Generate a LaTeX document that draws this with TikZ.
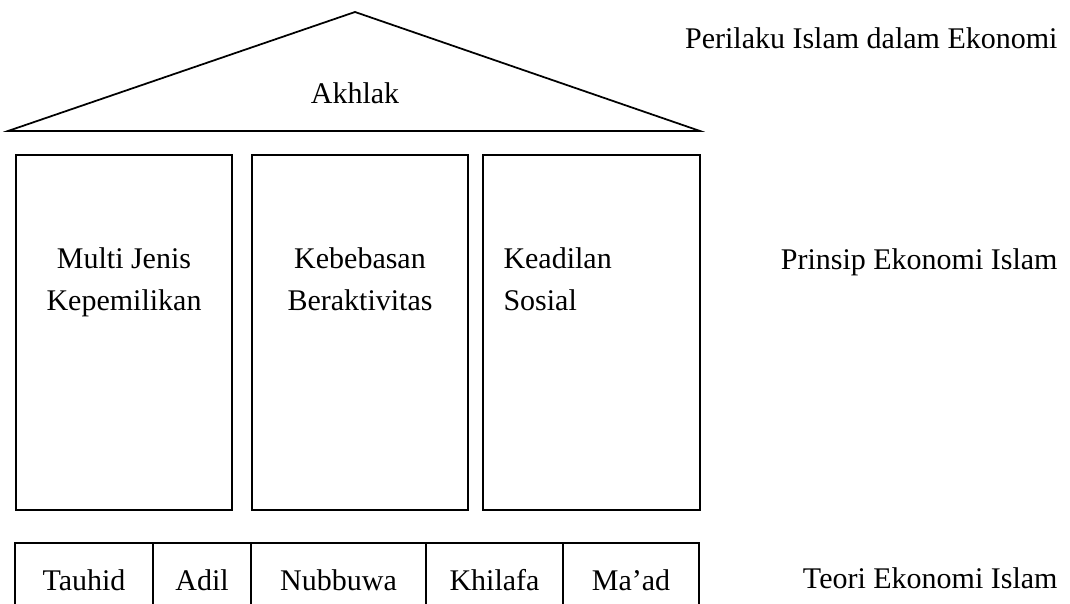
\documentclass[tikz,border=0pt]{standalone}
\usepackage{fontspec}
\setmainfont{Liberation Serif}
\usetikzlibrary{positioning}

\begin{document}
\begin{tikzpicture}[
    x=0.4pt, y=-0.4pt,
    node distance=8pt,
    lbl/.style={font=\fontsize{12}{16.8}\selectfont, inner sep=0pt},
    pillar/.style={draw, rectangle, line width=0.6pt, minimum width=86.4pt, minimum height=142pt, inner sep=0pt, outer sep=0pt},
    cell/.style={draw, rectangle, line width=0.6pt, minimum height=29.6pt, inner sep=0pt, outer sep=0pt, font=\fontsize{12}{14}\selectfont},
    roof/.style={draw, line width=0.7pt, line join=miter}
]
\useasboundingbox (0,0) rectangle (1070,604);
\clip (0,0) rectangle (1070,604);

% Roof
\coordinate (apex) at (355,12);
\coordinate (eaveL) at (8,131);
\coordinate (eaveR) at (700,131);
\draw[roof] (eaveL) -- (apex) -- (eaveR) -- cycle;
\node[lbl] (akhlak) at (355,93) {Akhlak};

% Pillars
\node[pillar, anchor=north west] (milik) at (16,155) {};
\node[pillar, right=of milik] (bebas) {};
\node[pillar, right=6pt of bebas, minimum width=86.8pt] (adilsos) {};
\node[lbl, align=center, anchor=north] (milikT) at (124,247) {Multi Jenis\\Kepemilikan};
\node[lbl, align=center, anchor=north] (bebasT) at (360,247) {Kebebasan\\Beraktivitas};
\node[lbl, align=left, anchor=north west] (adilsosT) at (503,247) {Keadilan\\Sosial};

% Foundation
\node[cell, minimum width=55.2pt, anchor=north west] (tauhid) at (15,543) {Tauhid};
\node[cell, minimum width=39.2pt, right=0pt of tauhid] (adil) {Adil};
\node[cell, minimum width=70pt, right=0pt of adil] (nubuwa) {Nubbuwa};
\node[cell, minimum width=54.8pt, right=0pt of nubuwa] (khilafa) {Khilafa};
\node[cell, minimum width=54.4pt, right=0pt of khilafa] (maad) {Ma’ad};

% Levels
\node[lbl, anchor=east] (perilaku) at (1058,38) {Perilaku Islam dalam Ekonomi};
\node[lbl, anchor=east] (prinsip) at (1058,262) {Prinsip Ekonomi Islam};
\node[lbl, anchor=east] (teori) at (1058,578) {Teori Ekonomi Islam};
\end{tikzpicture}
\end{document}
